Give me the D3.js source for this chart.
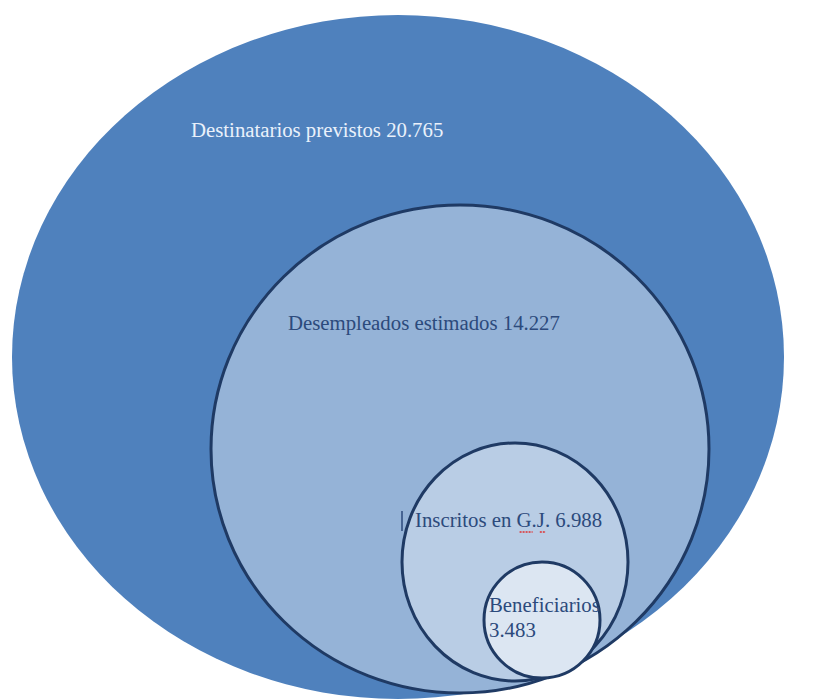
<!DOCTYPE html>
<html>
<head>
<meta charset="utf-8">
<script src="https://cdn.jsdelivr.net/npm/d3@7/dist/d3.min.js"></script>
<style>
  html, body { margin: 0; padding: 0; background: #fff; }
  svg { display: block; }
</style>
</head>
<body>
<div id="chart"></div>
<script>
// datos
const labels = ["Destinatarios previstos", "Desempleados estimados", "Inscritos en G.J.", "Beneficiarios"];
const values = ["20.765", "14.227", "6.988", "3.483"];

// geometría de cada elipse (cx, cy, rx, ry) y estilo
const shapes = [
  { cx: 398, cy: 357, rx: 386, ry: 342, fill: "#4f81bd", stroke: "none" },
  { cx: 460, cy: 449, rx: 249, ry: 244, fill: "#95b3d7", stroke: "#1f3a64" },
  { cx: 515, cy: 562, rx: 113, ry: 119, fill: "#b9cde5", stroke: "#1f3a64" },
  { cx: 542, cy: 620, rx: 58,  ry: 58,  fill: "#dce6f2", stroke: "#1f3a64" }
];

const width = 826, height = 700;
const svg = d3.select("#chart").append("svg")
  .attr("width", width).attr("height", height);

svg.selectAll("ellipse")
  .data(shapes)
  .join("ellipse")
  .attr("cx", d => d.cx).attr("cy", d => d.cy)
  .attr("rx", d => d.rx).attr("ry", d => d.ry)
  .attr("fill", d => d.fill)
  .attr("stroke", d => d.stroke)
  .attr("stroke-width", 3);

const font = "'Liberation Serif', 'DejaVu Serif', serif";
const sx = 1.04; // el texto original sale algo estirado a lo ancho

// etiquetas
const textPos = [
  { x: 191, y: 137, color: "#eaf1fb" },
  { x: 288, y: 330, color: "#2c4a7c" },
  { x: 415, y: 527, color: "#2c4a7c" },
  { x: 489, y: 612, color: "#2c4a7c" }
];

function addText(x, y, color, str) {
  return svg.append("g")
    .attr("transform", `translate(${x},${y}) scale(${sx},1)`)
    .append("text")
    .style("font-family", font).style("font-size", "20px")
    .style("fill", color)
    .text(str);
}

let gjText = null;
labels.forEach((lab, i) => {
  const p = textPos[i];
  if (i < 3) {
    const t = addText(p.x, p.y, p.color, `${lab} ${values[i]}`);
    if (i === 2) gjText = t;
  } else {
    addText(p.x, p.y, p.color, lab);
    addText(p.x, p.y + 25, p.color, values[i]);
  }
});

// cursor de texto
svg.append("line")
  .attr("x1", 402).attr("x2", 402).attr("y1", 511).attr("y2", 531)
  .attr("stroke", "#2c4a7c").attr("stroke-width", 1.5);

// subrayado ortográfico bajo "G" y "J"
const node = gjText.node();
const s = node.textContent;
[s.indexOf("G."), s.indexOf("J.")].forEach(idx => {
  const a = node.getStartPositionOfChar(idx).x;
  const b = node.getEndPositionOfChar(idx).x;
  svg.append("line")
    .attr("x1", textPos[2].x + a * sx + 3).attr("x2", textPos[2].x + b * sx + 1)
    .attr("y1", textPos[2].y + 5).attr("y2", textPos[2].y + 5)
    .attr("stroke", "#e03030").attr("stroke-width", 1.5)
    .attr("stroke-dasharray", "2,1");
});
</script>
</body>
</html>
